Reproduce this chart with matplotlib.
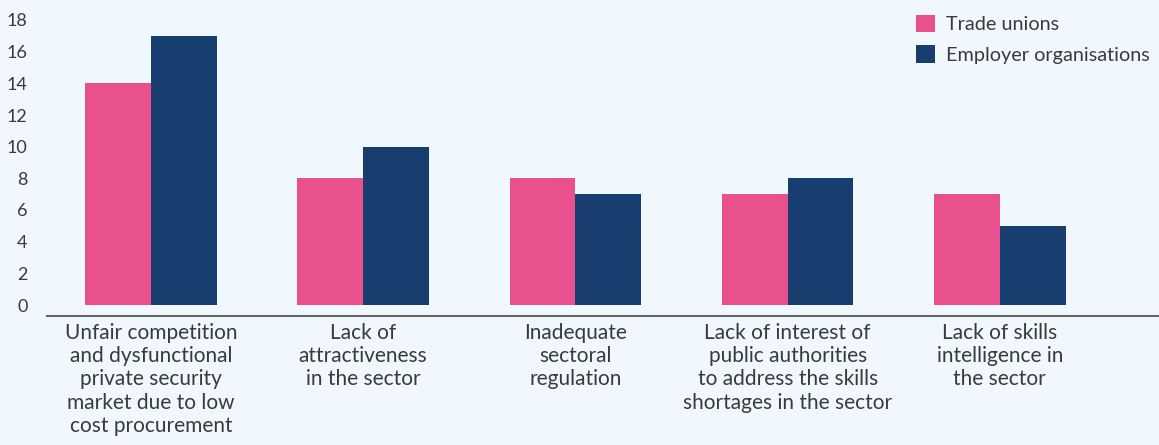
import matplotlib
matplotlib.use('Agg')
import matplotlib.pyplot as plt
import numpy as np

plt.rcParams['font.family'] = ['Lato', 'DejaVu Sans']

categories = ['Unfair competition\nand dysfunctional\nprivate security\nmarket due to low\ncost procurement',
              'Lack of\nattractiveness\nin the sector',
              'Inadequate\nsectoral\nregulation',
              'Lack of interest of\npublic authorities\nto address the skills\nshortages in the sector',
              'Lack of skills\nintelligence in\nthe sector']
trade_unions = [14, 8, 8, 7, 7]
employer_orgs = [17, 10, 7, 8, 5]

bg = '#F0F8FE'
pink = '#E8518D'
navy = '#183D6F'
txt = '#3a3a3a'

fig = plt.figure(figsize=(11.59, 4.45), dpi=100, facecolor=bg)
ax = fig.add_axes([47 / 1159, (445 - 305) / 445, 1 - 47 / 1159, (305 - 20) / 445])
ax.set_facecolor(bg)

x = np.arange(len(categories))
w = 0.31
ax.bar(x - w / 2, trade_unions, w, color=pink, label='Trade unions')
ax.bar(x + w / 2, employer_orgs, w, color=navy, label='Employer organisations')

ax.set_xlim(-0.49, 4.75)
ax.set_ylim(0, 18)
ax.set_yticks(range(0, 19, 2))
ax.set_xticks(x)
ax.set_xticklabels(categories)
for lab in ax.get_xticklabels():
    lab.set_linespacing(1.47)
ax.tick_params(axis='y', length=0, pad=14, labelsize=13, labelcolor=txt)
ax.tick_params(axis='x', length=0, pad=5, labelsize=15, labelcolor=txt)

for s in ['top', 'right', 'left']:
    ax.spines[s].set_visible(False)
ax.spines['bottom'].set_position(('outward', 8))
ax.spines['bottom'].set_color('#666666')
ax.spines['bottom'].set_linewidth(1.5)

leg = ax.legend(loc='upper right', bbox_to_anchor=(1.008, 1.08), frameon=False,
                fontsize=14.3, handlelength=0.95, handleheight=0.95,
                handletextpad=0.55, labelspacing=0.6)
for t in leg.get_texts():
    t.set_color(txt)

fig.savefig('out.png', dpi=100, facecolor=bg)
